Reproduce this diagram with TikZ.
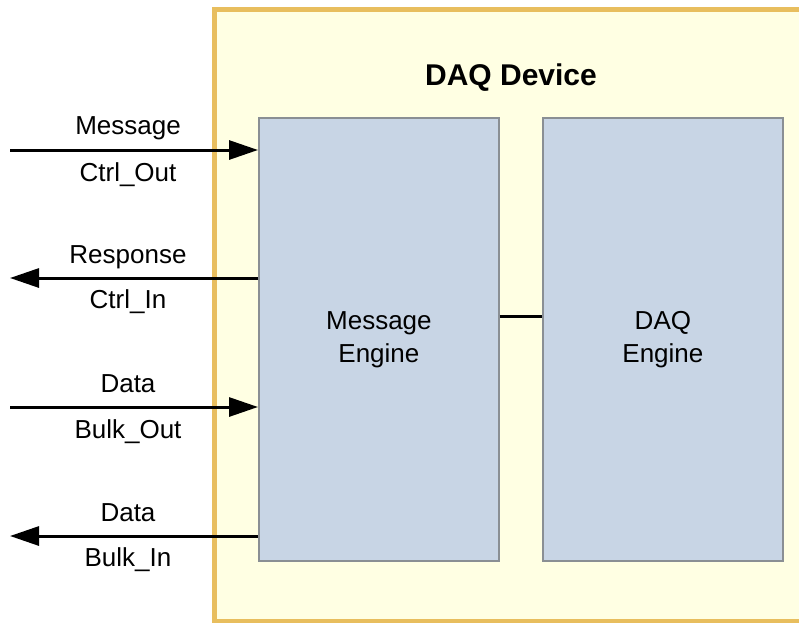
\documentclass[tikz,border=0pt]{standalone}
\usepackage{fontspec}
\setmainfont{Liberation Sans}
\usetikzlibrary{arrows.meta}
\definecolor{devborder}{HTML}{E8BE5E}
\definecolor{devfill}{HTML}{FFFFE3}
\definecolor{engfill}{HTML}{C8D5E5}
\definecolor{engborder}{HTML}{8A8F94}
\tikzset{
  engine/.style={draw=engborder, line width=1.8pt, fill=engfill, minimum width=240pt,
    minimum height=443pt, inner sep=0pt, align=center, font=\fontsize{26}{33}\selectfont},
  lbl/.style={font=\fontsize{26}{30}\selectfont, inner sep=0pt, anchor=base},
  bus/.style={line width=3pt, -{Triangle[length=29pt,width=19pt]}},
  link/.style={line width=3pt}
}
\begin{document}
\begin{tikzpicture}[x=1pt,y=-1pt]
  \useasboundingbox (0,0) rectangle (799,622);
  \begin{scope}
    \clip (0,0) rectangle (799,622);
    % device enclosure
    \draw[devborder, line width=5pt, fill=devfill] (214,9) rectangle (812,621);
  \end{scope}
  \node[font=\bfseries\fontsize{30}{36}\selectfont, anchor=base] (title) at (511,85) {DAQ Device};

  % engines
  \node[engine, anchor=north west] (me) at (258,117) {Message\\Engine};
  \node[engine, anchor=north west] (de) at (542,117) {DAQ\\Engine};
  \draw[link] (me.east |- 0,316) -- (de.west |- 0,316);

  % end points of the host-side buses
  \coordinate (p1) at (10,150);
  \coordinate (p2) at (10,278);
  \coordinate (p3) at (10,407);
  \coordinate (p4) at (10,536);

  \draw[bus] (p1) -- (p1 -| me.west);
  \draw[bus] (p2 -| me.west) -- (p2);
  \draw[bus] (p3) -- (p3 -| me.west);
  \draw[bus] (p4 -| me.west) -- (p4);

  % bus labels
  \node[lbl] (l1a) at (128,134) {Message};
  \node[lbl] (l1b) at (128,181) {Ctrl\_Out};
  \node[lbl] (l2a) at (128,263) {Response};
  \node[lbl] (l2b) at (128,308) {Ctrl\_In};
  \node[lbl] (l3a) at (128,392) {Data};
  \node[lbl] (l3b) at (128,438) {Bulk\_Out};
  \node[lbl] (l4a) at (128,521) {Data};
  \node[lbl] (l4b) at (128,566) {Bulk\_In};
\end{tikzpicture}
\end{document}
